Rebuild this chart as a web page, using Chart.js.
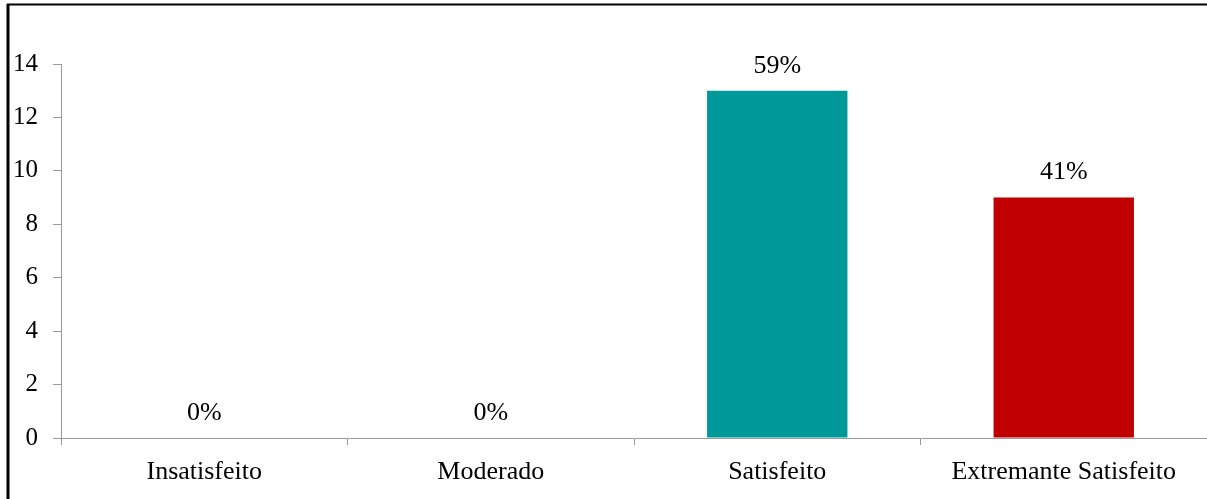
<!DOCTYPE html>
<html>
<head>
<meta charset="utf-8">
<script src="https://cdn.jsdelivr.net/npm/chart.js@4.4.0/dist/chart.umd.min.js"></script>
<style>
  html, body { margin: 0; padding: 0; background: #fff; }
  #wrap { width: 1207px; height: 499px; position: relative; }
</style>
</head>
<body>
<div id="wrap"><canvas id="graficoSatisfacao"></canvas></div>
<script>
// categorias e respostas
const categorias = ['Insatisfeito', 'Moderado', 'Satisfeito', 'Extremante Satisfeito'];
const respostas = [0, 0, 13, 9];
const cores = ['#009999', '#009999', '#009999', '#C00000'];
const ticksY = [0, 2, 4, 6, 8, 10, 12, 14];

const fonte = 'Liberation Serif, Times New Roman, serif';
const total = respostas.reduce((a, b) => a + b, 0);

// percentual acima de cada barra
const rotulos = {
  id: 'rotulos',
  afterDatasetsDraw(chart) {
    const ctx = chart.ctx;
    const meta = chart.getDatasetMeta(0);
    ctx.save();
    ctx.font = '26px ' + fonte;
    ctx.fillStyle = '#000';
    ctx.textAlign = 'center';
    ctx.textBaseline = 'middle';
    meta.data.forEach((barra, i) => {
      const pct = Math.round(respostas[i] / total * 100) + '%';
      ctx.fillText(pct, barra.x, barra.y - 25);
    });
    ctx.restore();
  }
};

// moldura preta em volta do gráfico
const moldura = {
  id: 'moldura',
  afterDraw(chart) {
    const ctx = chart.ctx;
    ctx.save();
    ctx.strokeStyle = '#000';
    ctx.lineWidth = 3;
    ctx.beginPath();
    ctx.moveTo(8, 499);
    ctx.lineTo(8, 4);
    ctx.stroke();
    ctx.lineWidth = 2;
    ctx.beginPath();
    ctx.moveTo(7, 4.5);
    ctx.lineTo(1207, 4.5);
    ctx.stroke();
    ctx.restore();
  }
};

const ctx = document.getElementById('graficoSatisfacao').getContext('2d');
const grafico = new Chart(ctx, {
  type: 'bar',
  data: {
    labels: categorias,
    datasets: [{
      data: respostas,
      backgroundColor: cores,
      categoryPercentage: 1,
      barPercentage: 0.49
    }]
  },
  options: {
    responsive: true,
    maintainAspectRatio: false,
    animation: false,
    layout: { padding: { top: 64, right: 0, bottom: 0, left: 0 } },
    plugins: {
      legend: { display: false },
      tooltip: { enabled: false }
    },
    scales: {
      x: {
        grid: { offset: true, drawOnChartArea: false, tickLength: 7, color: '#999' },
        border: { color: '#999', width: 1 },
        ticks: { color: '#000', font: { family: fonte, size: 26 }, padding: 12, maxRotation: 0 },
        afterFit(s) { s.height = 61; }
      },
      y: {
        min: 0,
        max: 14,
        afterBuildTicks(s) { s.ticks = ticksY.map(v => ({ value: v })); },
        grid: { drawOnChartArea: false, tickLength: 8, color: '#999' },
        border: { color: '#999', width: 1 },
        ticks: { color: '#000', font: { family: fonte, size: 25 }, padding: 15 },
        afterFit(s) { s.width = 61; }
      }
    }
  },
  plugins: [rotulos, moldura]
});
</script>
</body>
</html>
